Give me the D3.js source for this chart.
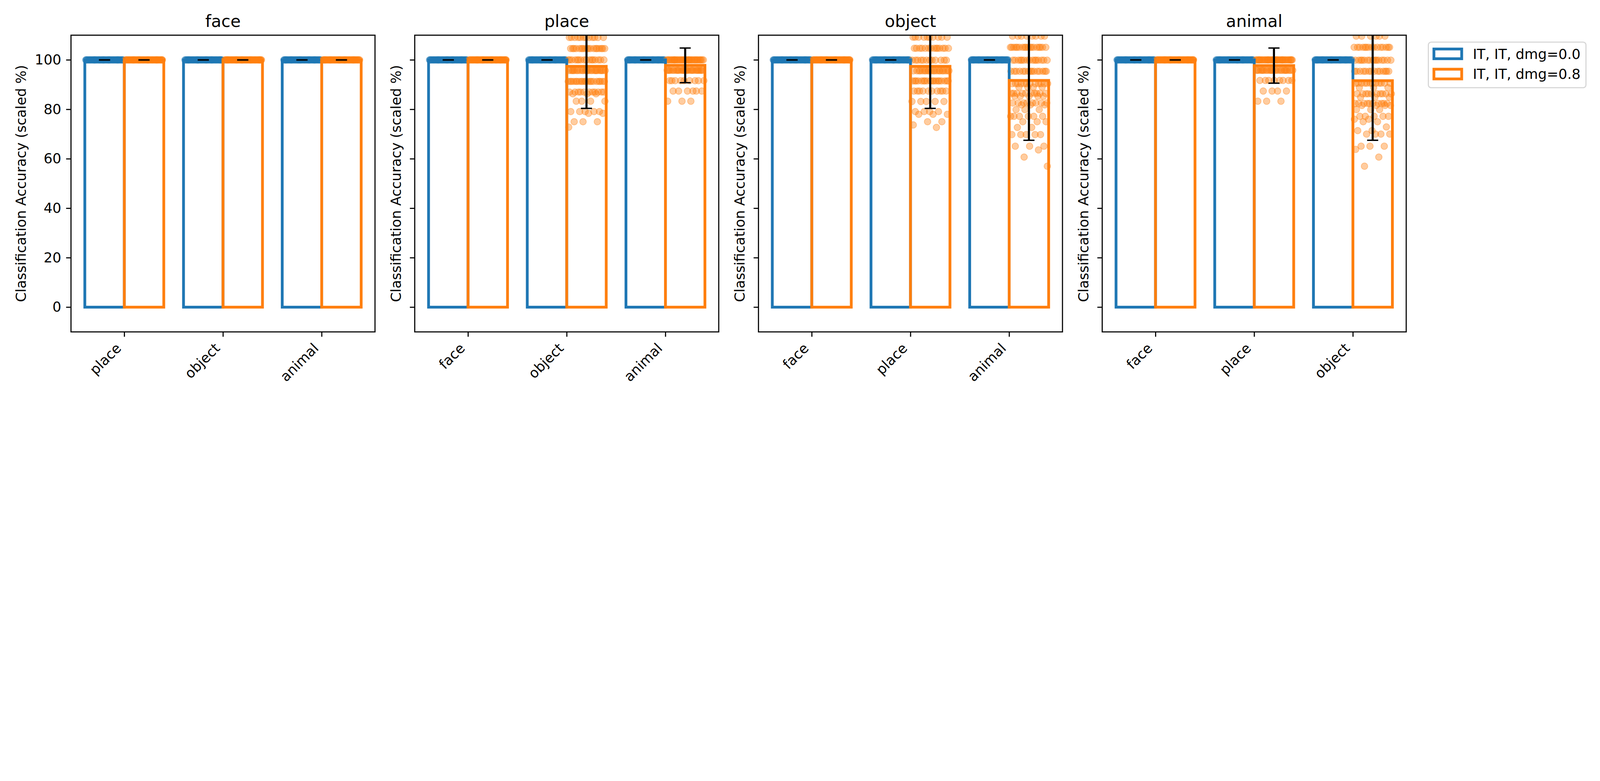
<!DOCTYPE html>
<html>
<head>
<meta charset="utf-8">
<script src="https://cdn.jsdelivr.net/npm/d3@7"></script>
<style>
  html, body { margin: 0; padding: 0; background: #fff; overflow: hidden; }
  #chart { display: block; width: 100vw; height: 100vh; }
</style>
</head>
<body>
<svg id="chart" viewBox="0 0 8000 2000" preserveAspectRatio="xMinYMin meet"></svg>
<script>
// ---- data ----
const panels = ['face', 'place', 'object', 'animal'];
const categories = [
  ['place', 'object', 'animal'],
  ['face', 'object', 'animal'],
  ['face', 'place', 'animal'],
  ['face', 'place', 'object']
];
const seriesNames = ['IT, IT, dmg=0.0', 'IT, IT, dmg=0.8'];
const seriesColors = ['#1f77b4', '#ff7f0e'];
const yTicks = [0, 20, 40, 60, 80, 100];

// bar heights (mean) and error bar half-lengths, [panel][category]
const meanDmg0 = [[100, 100, 100], [100, 100, 100], [100, 100, 100], [100, 100, 100]];
const errDmg0  = [[0, 0, 0], [0, 0, 0], [0, 0, 0], [0, 0, 0]];
const meanDmg8 = [[100, 100, 100], [100, 97.4, 97.8], [100, 97.4, 91.7], [100, 97.7, 91.6]];
const errDmg8  = [[0, 0, 0], [0, 17.0, 7.0], [0, 17.0, 24.2], [0, 7.1, 24.1]];

// individual points as [value, how many]
const allFull = [[100, 60]];
const placeObject = [[109.1, 12], [104.6, 18], [100, 16], [95.7, 25], [91.3, 20], [87.0, 11],
  [86.3, 3], [83.3, 4], [79.1, 5], [78.4, 2], [75.0, 3], [72.8, 1]];
const placeAnimal = [[100, 36], [95.8, 28], [91.6, 9], [87.4, 6], [83.3, 3]];
const objectPlace = [[109.2, 10], [104.7, 14], [99.9, 12], [95.6, 20], [91.5, 18], [87.4, 10],
  [83.2, 5], [79.1, 4], [78.0, 3], [75.0, 2], [73.7, 1], [72.7, 1]];
const objectAnimal = [[109.6, 8], [105.1, 18], [99.9, 15], [95.4, 15], [90.4, 12], [89.0, 4],
  [86.5, 10], [85.3, 5], [82.6, 8], [81.8, 3], [79.9, 3], [77.2, 6], [75.0, 3], [72.7, 2],
  [69.8, 5], [65.1, 3], [63.6, 1], [60.7, 1], [57.0, 1]];
const animalPlace = [[100, 40], [95.8, 25], [91.7, 8], [87.4, 4], [83.3, 3]];
const animalObject = [[109.6, 6], [105.1, 15], [99.9, 15], [95.4, 14], [90.6, 12], [88.8, 3],
  [86.3, 10], [84.9, 3], [82.4, 10], [81.6, 4], [79.9, 3], [77.2, 5], [76.0, 2], [75.0, 2],
  [72.9, 1], [71.4, 2], [70.0, 4], [65.1, 3], [63.8, 1], [60.7, 1], [57.0, 1]];

const pointsDmg0 = [
  [allFull, allFull, allFull], [allFull, allFull, allFull],
  [allFull, allFull, allFull], [allFull, allFull, allFull]
];
const pointsDmg8 = [
  [allFull, allFull, allFull],
  [allFull, placeObject, placeAnimal],
  [allFull, objectPlace, objectAnimal],
  [allFull, animalPlace, animalObject]
];

const means = [meanDmg0, meanDmg8];
const errs = [errDmg0, errDmg8];
const points = [pointsDmg0, pointsDmg8];

// ---- layout (figure saved at 500 dpi) ----
const PT = 500 / 72;
const FS = 10 * PT;
const FONT = 'DejaVu Sans';
const W = 1520, H = 1484, TOP = 176, LEFT0 = 355, STEP = 1718.7;
const BAR_W = 0.4, JIT = 0.19;

const svg = d3.select('#chart');
svg.append('rect').attr('width', 8000).attr('height', 2000).attr('fill', '#fff');

function expand(levels) {
  const out = [];
  levels.forEach(([v, n]) => { for (let k = 0; k < n; k++) out.push(v); });
  return out;
}

panels.forEach((name, p) => {
  const left = LEFT0 + p * STEP;
  const cats = categories[p];
  const g = svg.append('g').attr('transform', `translate(${left},${TOP})`);

  const x = d3.scaleLinear().domain([-0.54, 2.54]).range([0, W]);
  const y = d3.scaleLinear().domain([-10, 110]).range([H, 0]);

  const clipId = 'clip' + p;
  g.append('clipPath').attr('id', clipId)
    .append('rect').attr('width', W).attr('height', H);
  const plot = g.append('g').attr('clip-path', `url(#${clipId})`);

  // jittered points
  const ptsLayer = plot.append('g');
  cats.forEach((c, ci) => {
    seriesNames.forEach((s, si) => {
      const centre = ci + (si === 0 ? -BAR_W / 2 : BAR_W / 2);
      const vals = expand(points[si][p][ci]);
      ptsLayer.selectAll(null)
        .data(vals)
        .enter().append('circle')
        .attr('cx', (v, i) => x(centre + (((i * 0.6180339887 + 0.37 * si + 0.11 * ci) % 1) - 0.5) * 2 * JIT))
        .attr('cy', v => y(v))
        .attr('r', 16.5)
        .attr('fill', seriesColors[si]).attr('fill-opacity', 0.4)
        .attr('stroke', seriesColors[si]).attr('stroke-opacity', 0.4)
        .attr('stroke-width', 3.5);
    });
  });

  // open bars
  seriesNames.forEach((s, si) => {
    plot.append('g').selectAll('rect')
      .data(cats.map((c, ci) => ({ ci, m: means[si][p][ci] })))
      .enter().append('rect')
      .attr('x', d => x(d.ci + (si === 0 ? -BAR_W : 0)))
      .attr('width', x(BAR_W) - x(0))
      .attr('y', d => y(d.m))
      .attr('height', d => y(0) - y(d.m))
      .attr('fill', 'none')
      .attr('stroke', seriesColors[si])
      .attr('stroke-width', 2 * PT);
  });

  // error bars
  seriesNames.forEach((s, si) => {
    cats.forEach((c, ci) => {
      const cx = x(ci + (si === 0 ? -BAR_W / 2 : BAR_W / 2));
      const m = means[si][p][ci], e = errs[si][p][ci];
      const eg = plot.append('g').attr('stroke', '#000');
      eg.append('line')
        .attr('x1', cx).attr('x2', cx)
        .attr('y1', y(m - e)).attr('y2', y(m + e))
        .attr('stroke-width', 1.5 * PT);
      [m - e, m + e].forEach(v => {
        eg.append('line')
          .attr('x1', cx - 4 * PT).attr('x2', cx + 4 * PT)
          .attr('y1', y(v)).attr('y2', y(v))
          .attr('stroke-width', 1 * PT);
      });
    });
  });

  // axes
  const yAxis = g.append('g')
    .call(d3.axisLeft(y).tickValues(yTicks).tickSize(3.5 * PT).tickPadding(3.5 * PT)
      .tickFormat(p === 0 ? d3.format('d') : () => ''));
  const xAxis = g.append('g').attr('transform', `translate(0,${H})`)
    .call(d3.axisBottom(x).tickValues([0, 1, 2]).tickSize(3.5 * PT).tickFormat(i => cats[i]));
  [yAxis, xAxis].forEach(a => {
    a.select('.domain').remove();
    a.attr('font-family', FONT).attr('font-size', FS);
    a.selectAll('line').attr('stroke', '#000').attr('stroke-width', 0.8 * PT);
    a.selectAll('text').attr('fill', '#000');
  });
  xAxis.selectAll('text')
    .attr('y', 0).attr('dy', 0)
    .attr('text-anchor', 'end')
    .attr('transform', `translate(${-0.17 * FS},${7 * PT + 0.54 * FS}) rotate(-45)`);

  g.append('rect')
    .attr('width', W).attr('height', H)
    .attr('fill', 'none').attr('stroke', '#000').attr('stroke-width', 0.8 * PT);

  g.append('text')
    .attr('x', W / 2).attr('y', -6 * PT)
    .attr('text-anchor', 'middle')
    .attr('font-family', FONT).attr('font-size', 12 * PT)
    .text(name);

  const labelX = p === 0 ? -227 : -70;
  g.append('text')
    .attr('transform', `translate(${labelX},${H / 2}) rotate(-90)`)
    .attr('text-anchor', 'middle')
    .attr('font-family', FONT).attr('font-size', FS)
    .text('Classification Accuracy (scaled %)');
});

// legend
const lastRight = LEFT0 + 3 * STEP + W;
const lg = svg.append('g').attr('transform', `translate(${lastRight + 0.05 * W + 0.5 * FS},${TOP + 0.5 * FS})`);
const rowH = 101;
const textW = 538;
lg.append('rect')
  .attr('width', 0.4 * FS * 2 + 2 * FS + 0.8 * FS + textW)
  .attr('height', 228)
  .attr('rx', 14).attr('ry', 14)
  .attr('fill', '#fff').attr('fill-opacity', 0.8)
  .attr('stroke', '#d6d6d6').attr('stroke-width', 0.8 * PT);
seriesNames.forEach((s, si) => {
  const cy = 58.7 + si * rowH;
  lg.append('rect')
    .attr('x', 0.4 * FS).attr('y', cy - 0.35 * FS)
    .attr('width', 2 * FS).attr('height', 0.7 * FS)
    .attr('fill', 'none').attr('stroke', seriesColors[si]).attr('stroke-width', 2 * PT);
  lg.append('text')
    .attr('x', 0.4 * FS + 2 * FS + 0.8 * FS).attr('y', cy + 0.36 * FS)
    .attr('font-family', FONT).attr('font-size', FS)
    .text(s);
});
</script>
</body>
</html>
